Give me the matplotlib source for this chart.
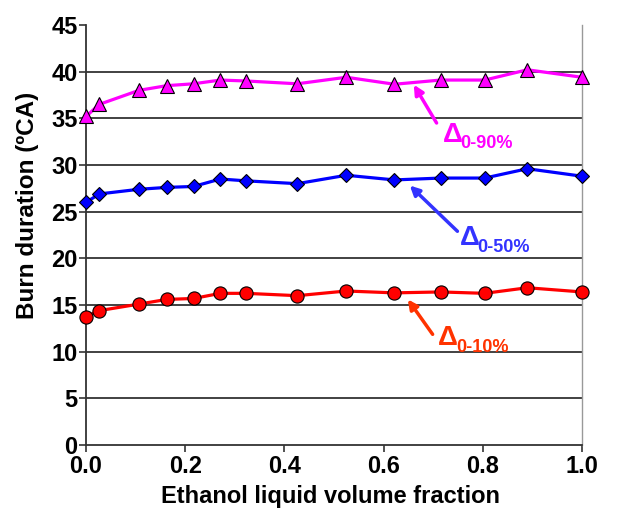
import matplotlib
matplotlib.use("Agg")
import matplotlib.pyplot as plt

plt.rcParams['font.family'] = ['Liberation Sans', 'DejaVu Sans']
plt.rcParams['font.weight'] = 'bold'

# ethanol liquid volume fraction
frac = [0.0, 0.027, 0.107, 0.163, 0.217, 0.271, 0.323, 0.426, 0.525,
        0.622, 0.715, 0.804, 0.890, 1.0]

# burn durations (deg CA)
d90 = [35.2, 36.5, 38.0, 38.5, 38.7, 39.1, 39.0, 38.7, 39.4,
       38.65, 39.1, 39.1, 40.2, 39.4]
d50 = [26.0, 26.9, 27.4, 27.6, 27.7, 28.5, 28.3, 28.0, 28.9,
       28.4, 28.6, 28.6, 29.6, 28.8]
d10 = [13.75, 14.4, 15.1, 15.6, 15.7, 16.25, 16.25, 16.0, 16.5,
       16.3, 16.4, 16.25, 16.85, 16.4]

fig = plt.figure(figsize=(6.21, 5.14), dpi=100)
ax = fig.add_axes([0.1385, 0.1342, 0.7985, 0.8172])

for y in range(5, 45, 5):
    ax.axhline(y, color='#333333', lw=1.3, zorder=1)

ax.plot(frac, d90, color='#ff00ff', lw=2.3, marker='^', ms=10,
        mfc='#ff00ff', mec='black', mew=0.8, zorder=3, clip_on=False)
ax.plot(frac, d50, color='#0000ff', lw=2.3, marker='D', ms=7.5,
        mfc='#0000ff', mec='black', mew=0.8, zorder=3, clip_on=False)
ax.plot(frac, d10, color='#ff0000', lw=2.3, marker='o', ms=9.5,
        mfc='#ff0000', mec='black', mew=0.8, zorder=3, clip_on=False)

# labels with arrows
labels = [
    ('0-90%', '#ff00ff', (0.720, 32.5), (0.754, 31.8), (0.707, 34.5), (0.661, 38.6)),
    ('0-50%', '#3333ff', (0.753, 21.4), (0.788, 20.7), (0.749, 22.9), (0.653, 27.8)),
    ('0-10%', '#ff3300', (0.709, 10.7), (0.746, 10.0), (0.699, 11.86), (0.649, 15.6)),
]
for sub, col, dpos, spos, tail, head in labels:
    ax.text(dpos[0], dpos[1], '\u0394', color=col, fontsize=20,
            fontweight='bold', ha='left', va='baseline')
    ax.text(spos[0], spos[1], sub, color=col, fontsize=13,
            fontweight='bold', ha='left', va='baseline')
    ax.annotate('', xy=head, xytext=tail,
                arrowprops=dict(arrowstyle='-|>', color=col, lw=2.5,
                                mutation_scale=14, shrinkA=0, shrinkB=0))

ax.set_xlim(0, 1.0)
ax.set_ylim(0, 45)
ax.set_xticks([0.0, 0.2, 0.4, 0.6, 0.8, 1.0])
ax.set_xticklabels(['0.0', '0.2', '0.4', '0.6', '0.8', '1.0'])
ax.set_yticks(range(0, 50, 5))

ax.spines['top'].set_visible(False)
ax.spines['right'].set_color('#999999')
ax.spines['right'].set_linewidth(1.0)
ax.spines['left'].set_color('#333333')
ax.spines['bottom'].set_color('#333333')
ax.spines['left'].set_linewidth(1.3)
ax.spines['bottom'].set_linewidth(1.3)

ax.tick_params(axis='both', direction='out', length=5, width=1.2,
               color='#333333', labelsize=17)
ax.tick_params(axis='y', pad=1)
ax.tick_params(axis='x', pad=2.5)

ax.set_xlabel('Ethanol liquid volume fraction', fontsize=17,
              fontweight='bold')
ax.xaxis.set_label_coords(0.494, -0.094)
ax.set_ylabel('Burn duration (\u00baCA)', fontsize=17.5,
              fontweight='bold')
ax.yaxis.set_label_coords(-0.095, 0.571)

fig.savefig('out.png', dpi=100)
